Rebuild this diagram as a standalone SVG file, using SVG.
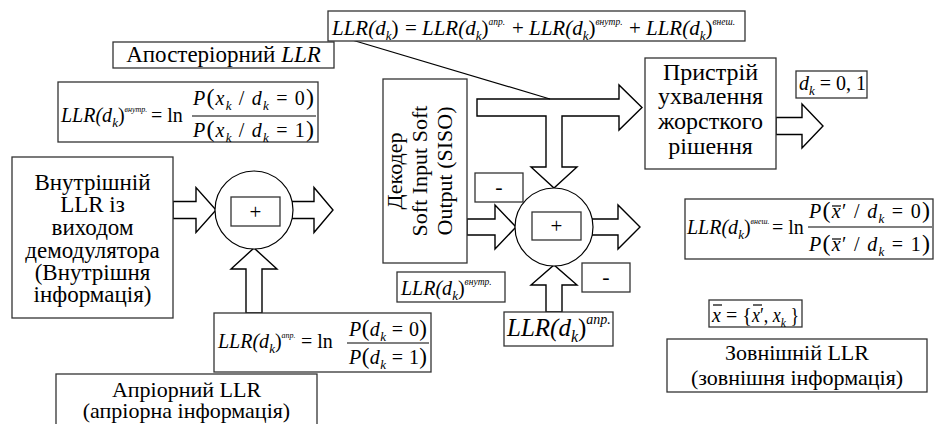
<svg xmlns="http://www.w3.org/2000/svg" width="934" height="424" viewBox="0 0 934 424">
<style>
.box{fill:#fff;stroke:#333;stroke-width:1.3}
.arr{fill:#fff;stroke:#000;stroke-width:1.4;stroke-linejoin:miter}
.ln{fill:none;stroke:#000;stroke-width:1.2}
text{font-family:"Liberation Serif","Times New Roman",serif;fill:#000}
.i{font-style:italic}
.n{font-style:normal}
.c{text-anchor:middle}
.s{font-size:13px;font-style:italic}
.p{font-size:9.5px;font-style:italic}
.q{font-size:8px;font-style:italic}
</style>
<rect width="934" height="424" fill="#fff"/>

<g id="connectors">
  <polygon class="arr" points="173,201.5 196,201.5 196,187.5 216,210 196,232.5 196,218.5 173,218.5"/>
  <polygon class="arr" points="290,201.5 314,201.5 314,187.5 333,210 314,232.5 314,218.5 290,218.5"/>
  <polygon class="arr" points="246,313 246,269 231,269 254,248 277,269 262,269 262,313"/>
  <polygon class="arr" points="477,99 619,99 619,85 642,107.5 619,130 619,116 562,116 562,167 577,167 554,188 531,167 546,167 546,116 477,116"/>
  <polygon class="arr" points="467,219 495,219 495,205 516,227 495,249 495,235 467,235"/>
  <polygon class="arr" points="590,219 618,219 618,205 640,227 618,249 618,235 590,235"/>
  <polygon class="arr" points="546,312 546,285 531,285 554,265 577,285 562,285 562,312"/>
  <polygon class="arr" points="776,117.5 802,117.5 802,104 823,126 802,148 802,134.5 776,134.5"/>
  <line class="ln" x1="352" y1="40" x2="550" y2="99"/>
</g>

<g id="formula-total">
  <rect class="box" x="328" y="11" width="417" height="30"/>
  <text class="i" x="332" y="35" font-size="21">LLR(d<tspan class="s" dy="5">k</tspan><tspan class="n" dy="-5">)</tspan></text>
  <text x="405" y="35" font-size="21">=</text>
  <text class="i" x="422" y="35" font-size="21">LLR(d<tspan class="s" dy="5">k</tspan><tspan class="n" dy="-5">)</tspan><tspan class="p" dy="-10">апр.</tspan></text>
  <text x="512" y="35" font-size="21">+</text>
  <text class="i" x="529" y="35" font-size="21">LLR(d<tspan class="s" dy="5">k</tspan><tspan class="n" dy="-5">)</tspan><tspan class="p" dy="-10">внутр.</tspan></text>
  <text x="629" y="35" font-size="21">+</text>
  <text class="i" x="646" y="35" font-size="21">LLR(d<tspan class="s" dy="5">k</tspan><tspan class="n" dy="-5">)</tspan><tspan class="p" dy="-10">внеш.</tspan></text>
</g>

<g id="aposteriori">
  <rect class="box" x="113" y="42" width="221" height="26"/>
  <text class="c" x="223.5" y="62" font-size="23">Апостеріорний <tspan class="i">LLR</tspan></text>
</g>

<g id="formula-intr">
  <rect class="box" x="58" y="82" width="260" height="60"/>
  <text class="i" x="61" y="122" font-size="20">LLR(d<tspan class="s" dy="5">k</tspan><tspan class="n" dy="-5">)</tspan><tspan class="q" dy="-10">внутр.</tspan></text>
  <text x="151" y="122" font-size="20">= ln</text>
  <text x="193" y="105" font-size="20" textLength="121" lengthAdjust="spacing"><tspan class="i">P</tspan><tspan font-size="24">(</tspan><tspan class="i">x</tspan><tspan class="s" dy="5">k</tspan><tspan dy="-5"> / </tspan><tspan class="i">d</tspan><tspan class="s" dy="5">k</tspan><tspan dy="-5"> = 0</tspan><tspan font-size="24">)</tspan></text>
  <line class="ln" x1="192" y1="116" x2="316" y2="116"/>
  <text x="193" y="137" font-size="20" textLength="121" lengthAdjust="spacing"><tspan class="i">P</tspan><tspan font-size="24">(</tspan><tspan class="i">x</tspan><tspan class="s" dy="5">k</tspan><tspan dy="-5"> / </tspan><tspan class="i">d</tspan><tspan class="s" dy="5">k</tspan><tspan dy="-5"> = 1</tspan><tspan font-size="24">)</tspan></text>
</g>

<g id="demod">
  <rect class="box" x="12" y="157" width="161" height="161"/>
  <text class="c" x="92.5" y="190" font-size="23">Внутрішній</text>
  <text class="c" x="92.5" y="212" font-size="23">LLR із</text>
  <text class="c" x="92.5" y="235" font-size="23">виходом</text>
  <text class="c" x="92.5" y="258" font-size="23">демодулятора</text>
  <text class="c" x="92.5" y="280" font-size="23">(Внутрішня</text>
  <text class="c" x="92.5" y="302" font-size="23">інформація)</text>
</g>

<g id="sum1">
  <circle cx="254" cy="210" r="39" fill="#fff" stroke="#000" stroke-width="1.2"/>
  <rect class="box" x="231" y="197" width="49" height="29"/>
  <text class="c" x="255.5" y="219" font-size="21">+</text>
</g>

<g id="formula-apr">
  <rect class="box" x="214" y="313" width="217" height="59"/>
  <text class="i" x="218" y="348" font-size="20">LLR(d<tspan class="s" dy="5">k</tspan><tspan class="n" dy="-5">)</tspan><tspan class="q" dy="-10">апр.</tspan></text>
  <text x="301" y="348" font-size="20">= ln</text>
  <text x="349" y="336" font-size="20" textLength="78" lengthAdjust="spacing"><tspan class="i">P</tspan><tspan font-size="23">(</tspan><tspan class="i">d</tspan><tspan class="s" dy="5">k</tspan><tspan dy="-5"> = 0</tspan><tspan font-size="23">)</tspan></text>
  <line class="ln" x1="347" y1="343" x2="429" y2="343"/>
  <text x="349" y="364" font-size="20" textLength="78" lengthAdjust="spacing"><tspan class="i">P</tspan><tspan font-size="23">(</tspan><tspan class="i">d</tspan><tspan class="s" dy="5">k</tspan><tspan dy="-5"> = 1</tspan><tspan font-size="23">)</tspan></text>
</g>

<g id="apriori">
  <rect class="box" x="56" y="374" width="261" height="70"/>
  <text class="c" x="186.5" y="397" font-size="22">Апріорний LLR</text>
  <text class="c" x="186.5" y="418" font-size="22">(апріорна інформація)</text>
</g>

<g id="decoder">
  <rect class="box" x="383" y="79" width="84" height="184"/>
  <g transform="translate(425,171) rotate(-90)">
    <text class="c" x="0" y="-23" font-size="22">Декодер</text>
    <text class="c" x="0" y="2" font-size="22">Soft Input Soft</text>
    <text class="c" x="0" y="27" font-size="22">Output (SISO)</text>
  </g>
</g>

<g id="minus-top">
  <rect class="box" x="475" y="173" width="48" height="29"/>
  <text class="c" x="499" y="194" font-size="22">-</text>
</g>

<g id="sum2">
  <circle cx="554" cy="227" r="39" fill="#fff" stroke="#000" stroke-width="1.2"/>
  <rect class="box" x="532" y="212" width="49" height="28"/>
  <text class="c" x="556.5" y="233" font-size="21">+</text>
</g>

<g id="minus-bottom">
  <rect class="box" x="582" y="263" width="48" height="29"/>
  <text class="c" x="606" y="284" font-size="22">-</text>
</g>

<g id="llr-intr-label">
  <rect class="box" x="397" y="272" width="108" height="30"/>
  <text class="i" x="401" y="295" font-size="20">LLR(d<tspan class="s" dy="5">k</tspan><tspan class="n" dy="-5">)</tspan><tspan class="p" dy="-10">внутр.</tspan></text>
</g>

<g id="llr-apr-label">
  <rect class="box" x="504" y="312" width="109" height="34"/>
  <text class="i" x="507" y="336" font-size="25">LLR(d<tspan font-size="16" dy="6">k</tspan><tspan class="n" dy="-6">)</tspan><tspan font-size="14" dy="-12">апр.</tspan></text>
</g>

<g id="decision">
  <rect class="box" x="645" y="58" width="131" height="111"/>
  <text class="c" x="710.5" y="80" font-size="24">Пристрій</text>
  <text class="c" x="710.5" y="104" font-size="24">ухвалення</text>
  <text class="c" x="710.5" y="129" font-size="24">жорсткого</text>
  <text class="c" x="710.5" y="154" font-size="24">рішення</text>
</g>

<g id="dk-out">
  <rect class="box" x="796" y="71" width="71" height="27"/>
  <text x="799" y="90" font-size="20"><tspan class="i">d</tspan><tspan class="s" dy="5">k</tspan><tspan dy="-5"> = 0, 1</tspan></text>
</g>

<g id="formula-ext">
  <rect class="box" x="685" y="199" width="248" height="60"/>
  <text class="i" x="687" y="234" font-size="20">LLR(d<tspan class="s" dy="5">k</tspan><tspan class="n" dy="-5">)</tspan><tspan class="q" dy="-10">внеш.</tspan></text>
  <text x="772" y="234" font-size="20">= ln</text>
  <text x="809" y="218" font-size="20" textLength="121" lengthAdjust="spacing"><tspan class="i">P</tspan><tspan font-size="24">(</tspan><tspan class="i">x</tspan>′ / <tspan class="i">d</tspan><tspan class="s" dy="5">k</tspan><tspan dy="-5"> = 0</tspan><tspan font-size="24">)</tspan></text>
  <line class="ln" x1="832" y1="206" x2="841" y2="206"/>
  <line class="ln" x1="808" y1="227" x2="932" y2="227"/>
  <text x="809" y="251" font-size="20" textLength="121" lengthAdjust="spacing"><tspan class="i">P</tspan><tspan font-size="24">(</tspan><tspan class="i">x</tspan>′ / <tspan class="i">d</tspan><tspan class="s" dy="5">k</tspan><tspan dy="-5"> = 1</tspan><tspan font-size="24">)</tspan></text>
  <line class="ln" x1="832" y1="239" x2="841" y2="239"/>
</g>

<g id="xbar-def">
  <rect class="box" x="709" y="300" width="93" height="27"/>
  <text x="712" y="322" font-size="20"><tspan class="i">x</tspan> = {</text>
  <line class="ln" x1="713" y1="305" x2="722" y2="305"/>
  <text x="752" y="322" font-size="20" textLength="47" lengthAdjust="spacingAndGlyphs"><tspan class="i">x</tspan>′, <tspan class="i">x</tspan><tspan class="s" dy="5">k</tspan><tspan dy="-5"> }</tspan></text>
  <line class="ln" x1="753" y1="305" x2="762" y2="305"/>
</g>

<g id="extrinsic">
  <rect class="box" x="667" y="339" width="260" height="53"/>
  <text class="c" x="797" y="360" font-size="22">Зовнішній LLR</text>
  <text class="c" x="797" y="385" font-size="22">(зовнішня інформація)</text>
</g>
</svg>
